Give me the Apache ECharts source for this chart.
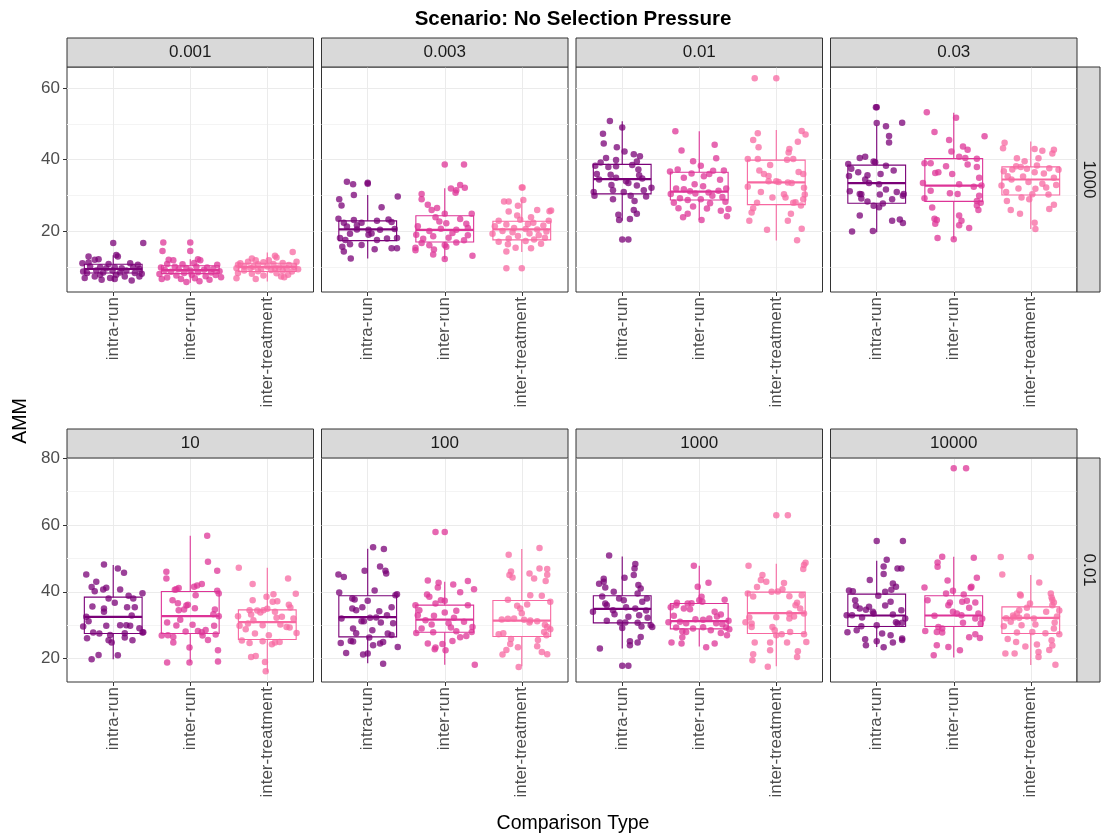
<!DOCTYPE html>
<html>
<head>
<meta charset="utf-8">
<script src="https://cdn.jsdelivr.net/npm/echarts@6/dist/echarts.min.js"></script>
<style>
  html, body { margin: 0; padding: 0; background: #fff; }
  #chart { width: 1102px; height: 836px; }
</style>
</head>
<body>
<div id="chart"></div>
<script>
// comparison types and their colours
const categories = ['intra-run', 'inter-run', 'inter-treatment'];
const colors = ['#7a0177', '#dd3497', '#f768a1'];

const facetLabels = ['0.001', '0.003', '0.01', '0.03', '10', '100', '1000', '10000'];
const rowLabels = ['1000', '0.01'];
const yMajor = [[20, 40, 60], [20, 40, 60, 80]];
const yMinor = [[10, 30, 50], [30, 50, 70]];
const yRange = [[3.2, 65.8], [13.0, 80.05]];

// box stats per facet: [lower whisker, q1, median, q3, upper whisker] for each comparison type
const box0001 = [[6.1, 8.5, 9.6, 10.9, 13.4], [5.8, 8.3, 9.3, 10.5, 12.3], [6.1, 8.9, 10.1, 11.2, 14.2]];
const box0003 = [[12.5, 17.5, 20.6, 23.0, 30.2], [12.3, 17.1, 20.5, 24.4, 32.1], [14.3, 17.7, 20.6, 22.9, 29.0]];
const box001 = [[23.0, 30.5, 34.6, 38.7, 50.7], [23.2, 28.8, 31.1, 36.5, 47.9], [17.5, 27.5, 33.7, 39.9, 48.3]];
const box003 = [[19.8, 27.9, 33.5, 38.5, 49.5], [17.9, 28.4, 32.8, 40.3, 53.1], [20.7, 30.2, 34.5, 38.0, 45.1]];
const box10 = [[19.8, 27.5, 32.5, 38.4, 48.0], [18.8, 27.5, 32.7, 40.1, 56.8], [16.1, 25.7, 30.9, 34.6, 47.2]];
const box100 = [[18.6, 26.5, 32.4, 38.8, 52.9], [18.2, 27.9, 31.7, 36.0, 43.0], [17.7, 26.6, 31.4, 37.4, 52.8]];
const box1000 = [[23.0, 30.7, 34.9, 38.8, 50.6], [23.6, 28.9, 31.2, 36.5, 47.8], [17.7, 27.5, 33.6, 39.9, 48.4]];
const box10000 = [[23.5, 29.6, 32.9, 39.3, 49.3], [20.3, 29.6, 32.9, 38.8, 50.5], [18.1, 27.5, 32.2, 35.5, 45.0]];

// jittered points per facet: [horizontal jitter (category units), AMM]
const pts0001 = [
  [[0,16.8],[0.39,16.8],[-0.32,13.1],[0.04,13.5],[0.06,13.1],[-0.24,12.2],[-0.19,12.3],[-0.4,11.2],[-0.32,11.4],[-0.06,11.0],[0.22,11.2],[0.32,10.8],[-0.3,10.3],[-0.17,10.1],[-0.09,9.8],[0.02,10.1],[0.11,9.8],[0.26,10.1],[0.34,9.6],[-0.39,8.9],[-0.34,8.5],[-0.22,9.2],[-0.13,8.6],[-0.01,9.2],[0.09,8.6],[0.17,9.2],[0.28,8.5],[0.37,8.3],[-0.37,7.1],[-0.24,7.5],[-0.15,6.6],[-0.04,7.1],[0.02,6.8],[0.24,6.4],[0.15,7.5],[0.34,7.5],[-0.17,8.0],[0.04,8.0]],
  [[0,17.0],[-0.35,17.0],[0,14.6],[-0.36,14.6],[-0.28,12.2],[-0.22,12.0],[0.1,12.3],[0.13,12.0],[-0.3,11.0],[-0.1,10.9],[0.05,11.3],[0.35,10.8],[-0.38,10.0],[-0.2,10.2],[-0.05,9.9],[0.08,10.2],[0.22,10.0],[0.3,9.6],[-0.33,9.3],[-0.15,9.5],[0,9.2],[0.18,9.4],[0.38,9.0],[-0.25,8.8],[-0.08,8.5],[0.1,8.7],[0.27,8.6],[-0.4,8.2],[-0.18,7.8],[0.02,8.0],[0.2,7.6],[0.33,7.9],[-0.3,7.2],[-0.12,6.8],[0.06,7.0],[0.25,6.6],[0.4,7.3],[-0.05,6.0],[0.12,6.2],[-0.37,6.8]],
  [[0.33,14.3],[0.1,13.3],[0.12,12.8],[-0.2,12.5],[-0.15,12.0],[0.02,12.0],[-0.35,11.2],[-0.25,11.6],[-0.05,11.5],[0.2,11.3],[0.38,11.6],[-0.38,10.8],[-0.12,10.9],[0.08,11.0],[0.28,10.7],[-0.3,10.3],[-0.18,10.2],[0,10.3],[0.15,10.0],[0.35,10.2],[-0.4,9.8],[-0.22,9.9],[-0.08,9.6],[0.1,9.7],[0.25,9.8],[0.4,9.5],[-0.3,9.2],[-0.12,9.0],[0.05,9.3],[0.2,9.1],[0.32,8.9],[-0.38,8.5],[-0.2,8.3],[0.12,8.4],[0.27,8.0],[-0.05,7.8],[0.18,7.5],[-0.4,7.0],[-0.15,6.8],[0.22,7.3]]
];
const pts0003 = [
  [[-0.27,33.9],[-0.19,33.2],[0,33.6],[0,33.3],[-0.18,30.2],[0.39,29.8],[-0.37,29.0],[-0.34,27.3],[0.18,26.8],[-0.38,23.6],[-0.18,23.2],[0.12,23.0],[0.27,23.4],[-0.31,22.5],[-0.08,22.5],[0.31,22.7],[-0.27,21.4],[-0.14,20.6],[0.01,20.5],[0.16,20.5],[0.35,20.7],[-0.36,18.2],[-0.23,19.4],[0.05,19.5],[0.12,17.7],[0.25,18.1],[0.38,18.2],[-0.29,17.7],[-0.08,16.3],[0.09,15.1],[-0.33,15.8],[-0.31,14.5],[-0.23,16.5],[0.31,15.4],[0.38,15.4],[-0.22,12.5],[0.01,19.1],[-0.14,21.8]],
  [[0,38.7],[0.25,38.7],[0.2,33.0],[0.08,32.0],[0.15,31.5],[0.26,32.2],[-0.3,30.5],[-0.3,29.0],[0.14,30.8],[-0.22,27.5],[-0.17,26.0],[-0.1,26.6],[0,25.0],[0.35,25.0],[0.2,23.5],[-0.12,24.0],[-0.07,22.8],[0.28,22.2],[0.02,22.3],[-0.35,21.5],[0.3,21.0],[-0.05,20.8],[0.15,20.5],[-0.2,20.2],[0.1,19.6],[0.3,19.0],[-0.37,19.1],[-0.28,18.0],[-0.15,18.7],[0.05,18.3],[0.25,17.6],[-0.3,16.8],[-0.2,16.2],[0,16.3],[0.15,17.0],[-0.38,15.5],[-0.14,15.0],[0.02,15.8],[0.36,13.3],[-0.15,13.6],[-0.38,14.8],[0,12.4]],
  [[0,32.3],[0.01,32.3],[-0.23,28.4],[-0.17,28.4],[0.02,28.8],[-0.05,27.2],[0.2,26.0],[0.38,25.9],[0.36,25.7],[-0.17,25.6],[-0.06,24.5],[0.12,24.0],[-0.3,23.0],[0.35,23.0],[0.15,22.5],[-0.02,23.3],[-0.2,22.0],[0.08,22.1],[-0.35,21.5],[0.28,21.7],[-0.1,21.0],[0.05,20.7],[0.2,20.6],[-0.25,20.2],[0.32,20.0],[-0.12,19.8],[0.1,19.5],[-0.38,19.4],[0.22,19.0],[-0.05,18.8],[0.3,18.3],[-0.17,18.1],[0.16,17.8],[-0.3,17.2],[0.05,17.4],[-0.18,16.5],[0.25,16.6],[-0.08,15.5],[0.12,15.4],[-0.2,14.5],[-0.2,9.8],[0,9.8]]
];
const pts001 = [
  [[-0.16,50.8],[0,49.0],[-0.25,47.2],[-0.24,44.5],[-0.07,43.5],[0.03,42.3],[0.23,41.0],[-0.21,40.5],[-0.08,39.9],[0.15,41.5],[-0.28,39.2],[0.19,39.5],[-0.35,38.3],[-0.18,38.0],[-0.08,38.2],[0.13,38.5],[0.21,37.3],[-0.33,36.0],[-0.15,35.8],[-0.08,35.0],[0.05,34.0],[0.22,35.7],[0.26,34.8],[-0.3,34.5],[0.08,33.5],[-0.14,33.0],[0.19,32.8],[0.38,32.2],[-0.37,31.0],[-0.12,31.5],[0.02,31.0],[0.28,31.5],[-0.36,30.0],[0.11,30.0],[0.31,29.8],[-0.12,29.0],[0.16,28.5],[0.15,26.0],[0.19,25.0],[-0.05,24.7],[-0.04,23.2],[0.1,23.5],[0,17.8],[0.08,17.8]],
  [[-0.31,47.9],[0.2,44.2],[-0.23,42.6],[0.22,40.4],[-0.08,39.6],[0.02,38.3],[-0.28,37.3],[0.32,37.0],[0.18,36.9],[0.13,36.0],[-0.38,36.7],[-0.1,36.2],[0.06,35.4],[-0.2,35.0],[0.27,34.4],[-0.06,33.2],[0.05,32.6],[0.35,32.0],[-0.3,32.0],[-0.2,31.8],[-0.12,31.2],[0.12,30.9],[0.25,31.4],[-0.37,30.5],[-0.05,30.6],[0.17,30.0],[0.3,29.6],[-0.25,29.3],[0.02,29.0],[-0.15,28.8],[0.34,28.3],[-0.33,28.0],[0.14,27.9],[-0.08,27.0],[0.1,26.4],[-0.27,26.5],[0.28,25.8],[0.36,24.3],[-0.21,24.0],[0.03,23.2],[0.38,26.3],[-0.15,25.0]],
  [[0,62.7],[-0.28,62.7],[0.33,48.0],[0.38,47.0],[-0.24,47.4],[-0.3,45.5],[0.28,45.0],[-0.23,43.5],[0.17,43.0],[0.16,42.0],[-0.37,40.2],[-0.24,40.2],[0.14,40.0],[0.22,40.2],[-0.08,38.5],[-0.22,37.0],[0.29,36.6],[-0.16,36.0],[-0.1,35.5],[0.35,36.0],[0.0,34.0],[-0.1,34.0],[0.03,33.8],[0.15,33.7],[0.2,33.5],[-0.37,32.5],[0.36,32.2],[-0.2,31.0],[0.1,30.4],[0.37,30.3],[-0.05,29.5],[0.12,29.5],[-0.25,28.0],[0.25,28.2],[0.35,29.0],[0.22,28.0],[-0.3,26.5],[0.32,27.3],[-0.32,25.3],[0.19,25.0],[-0.35,23.0],[0.15,23.0],[-0.12,20.5],[0.33,20.8],[0.27,17.6]]
];
const pts003 = [
  [[0,54.6],[-0.01,54.6],[0,50.2],[0.12,49.3],[0.33,50.3],[0.16,46.6],[0.16,44.8],[-0.22,40.5],[-0.15,40.8],[-0.04,39.5],[-0.02,39.3],[-0.37,38.8],[-0.33,37.5],[0.12,38.3],[0.22,37.0],[-0.24,36.5],[0.05,36.0],[-0.12,35.7],[-0.36,35.5],[-0.15,34.5],[-0.1,33.5],[0.03,33.2],[0.12,31.7],[-0.35,31.2],[0.26,31.0],[-0.22,30.5],[-0.2,30.4],[0.04,30.3],[0.35,30.5],[0.34,30.0],[-0.2,29.2],[0.2,29.0],[-0.12,28.4],[0.08,27.8],[-0.04,27.2],[0.03,26.8],[-0.22,24.5],[0.3,23.4],[0.34,22.4],[-0.32,20.0],[-0.05,20.2],[0.2,23.0]],
  [[-0.35,53.2],[0.03,51.7],[-0.25,47.7],[0.4,46.5],[-0.06,45.5],[0.12,43.7],[0.18,42.8],[-0.03,42.3],[0.07,40.8],[0.15,40.5],[0.3,40.3],[-0.38,39.0],[-0.3,39.0],[0.18,38.7],[-0.1,38.2],[0.3,38.0],[-0.2,36.5],[-0.24,36.3],[-0.02,36.0],[0.33,35.0],[-0.4,33.5],[0.07,33.2],[0.26,32.5],[0.36,32.8],[-0.3,31.4],[-0.05,30.7],[0.05,30.5],[0.33,30.0],[-0.38,29.3],[0.3,28.5],[0.35,28.0],[0.3,27.3],[-0.28,26.7],[0.32,26.0],[0.07,24.5],[-0.25,23.6],[-0.22,23.2],[0.1,23.0],[-0.24,22.2],[0.07,21.8],[0.2,21.0],[-0.21,18.2],[0,17.9]],
  [[-0.34,44.7],[-0.36,43.2],[0.05,43.0],[0.15,42.5],[0.3,42.8],[0.28,41.7],[-0.18,40.4],[0.1,40.4],[-0.08,39.6],[-0.19,38.2],[-0.13,38.0],[0.08,38.4],[-0.05,37.5],[-0.24,37.3],[0.24,37.6],[0.36,37.2],[-0.35,36.8],[0.05,36.5],[0.17,36.2],[-0.3,35.4],[-0.1,35.3],[0.3,35.0],[-0.25,34.5],[-0.03,33.8],[0.15,33.3],[0.33,33.0],[-0.38,32.8],[0.2,32.3],[-0.16,32.0],[0.06,31.9],[-0.32,31.0],[0.02,30.4],[0.23,30.3],[-0.12,29.5],[-0.02,29.0],[0.3,27.5],[-0.31,28.5],[-0.26,26.0],[-0.14,25.0],[0.05,22.5],[0.06,20.7],[0.24,26.3]]
];
const pts10 = [
  [[-0.12,48.2],[0.06,47.0],[-0.35,45.2],[0.14,45.7],[-0.22,43.0],[-0.09,41.2],[-0.28,41.4],[-0.13,40.7],[0.09,40.7],[-0.24,40.2],[0.38,39.6],[0.2,38.8],[0.26,38.0],[-0.06,38.0],[0.02,36.7],[-0.27,35.6],[-0.12,35.0],[0.18,35.4],[0.28,35.4],[-0.12,34.0],[-0.35,32.5],[0.24,32.9],[-0.32,31.2],[-0.39,29.6],[-0.09,29.8],[0.09,30.0],[0.17,30.0],[0.22,29.8],[0.34,29.1],[-0.26,27.8],[-0.18,27.5],[-0.04,27.1],[0.15,27.6],[0.39,27.9],[-0.34,26.1],[0.15,26.3],[0.25,25.5],[-0.06,25.5],[-0.02,24.8],[-0.19,21.1],[0.06,21.0],[-0.28,19.8],[0.38,27.8]],
  [[0.22,56.8],[0.23,49.0],[0.35,46.3],[-0.31,46.0],[-0.31,44.0],[0.15,42.3],[0.09,41.9],[0.05,41.5],[-0.15,41.1],[-0.18,40.8],[-0.2,40.6],[0.35,40.3],[0.37,39.5],[0.07,39.0],[-0.23,37.5],[-0.16,36.6],[-0.05,35.9],[-0.03,36.1],[0.06,35.1],[-0.08,34.7],[0.32,34.7],[-0.15,34.5],[0.37,32.7],[0.3,33.3],[-0.13,31.6],[-0.3,30.8],[-0.18,29.9],[0.03,30.1],[0.31,29.8],[-0.06,28.1],[0.1,28.3],[0.15,27.9],[0.2,28.6],[0.16,26.9],[-0.29,27.0],[-0.22,26.5],[0.33,27.2],[-0.37,26.9],[0.23,25.6],[-0.22,24.8],[-0.01,23.3],[0.36,22.5],[-0.3,18.8],[-0.01,18.8],[0.36,19.1]],
  [[-0.37,47.2],[0.27,44.0],[0.37,39.4],[-0.19,42.3],[0.08,39.3],[-0.01,38.5],[0.13,37.2],[0.07,37.0],[-0.19,37.5],[0.28,36.1],[0.3,35.3],[-0.23,34.5],[-0.05,34.5],[-0.13,34.4],[-0.21,33.2],[0.0,34.9],[0.1,34.0],[-0.09,33.8],[0.19,32.5],[-0.38,32.7],[-0.18,31.5],[0.12,32.2],[0.34,32.0],[-0.25,30.5],[0.17,30.2],[-0.06,30.0],[0.25,29.5],[-0.36,29.8],[0.29,29.3],[-0.28,28.8],[-0.16,27.5],[0.02,27.0],[0.38,27.7],[-0.33,25.4],[-0.23,24.7],[-0.06,25.2],[0.06,24.3],[0.1,24.8],[0.16,25.0],[-0.21,20.5],[-0.15,20.8],[-0.03,19.0],[-0.02,16.2]]
];
const pts100 = [
  [[0.07,53.3],[0.21,52.8],[-0.38,45.2],[-0.31,44.4],[0.16,47.6],[0.23,46.3],[0.24,45.5],[-0.04,46.3],[0.09,40.4],[-0.37,39.8],[0.38,39.3],[0.36,39.0],[-0.2,38.0],[-0.17,37.7],[0.0,37.3],[-0.07,35.4],[0.31,35.4],[-0.2,35.0],[-0.15,34.5],[0.15,34.2],[0.25,33.0],[-0.34,32.0],[0.03,32.2],[0.11,32.3],[-0.05,31.2],[-0.08,31.2],[0.17,30.8],[0.33,30.6],[-0.19,29.0],[0.06,28.5],[-0.15,27.6],[0.26,27.5],[0.31,27.1],[0.02,26.3],[-0.22,25.3],[-0.19,25.1],[0.16,24.5],[0.07,24.0],[-0.35,24.7],[0.2,25.0],[-0.28,21.7],[0.0,21.5],[-0.06,21.2],[0.39,23.5],[0.2,18.5]],
  [[0,57.9],[-0.12,57.9],[-0.22,43.4],[0.3,43.2],[0.11,42.2],[-0.08,42.7],[-0.09,41.3],[0.38,40.8],[0.2,39.9],[-0.23,39.2],[-0.2,38.5],[-0.05,37.5],[0.0,37.3],[-0.12,36.5],[0.3,36.0],[-0.38,36.0],[-0.33,34.5],[0.15,34.3],[0.0,33.8],[-0.35,33.0],[-0.14,32.8],[0.12,32.2],[-0.25,31.5],[0.25,31.0],[0.05,30.6],[-0.17,30.2],[0.36,29.5],[-0.3,29.0],[0.08,29.3],[0.35,28.0],[-0.37,27.7],[0.15,28.2],[-0.15,27.9],[0.28,26.8],[0.2,26.4],[0.1,25.3],[-0.22,24.5],[-0.03,24.4],[-0.12,23.3],[0.01,22.5],[0.39,18.2],[-0.13,22.8]],
  [[0.23,53.1],[-0.17,51.1],[0.23,47.0],[0.33,46.8],[-0.14,46.1],[-0.16,45.0],[0.1,45.5],[0.16,44.0],[0.31,43.2],[0.33,45.1],[-0.12,44.3],[0.11,39.0],[0.26,38.8],[0.37,37.0],[-0.18,37.6],[-0.06,35.8],[0.07,36.2],[-0.02,35.0],[0.0,33.6],[-0.26,31.7],[-0.18,31.9],[-0.1,32.0],[0.03,31.6],[0.11,31.4],[0.1,30.8],[0.2,31.2],[0.3,30.1],[0.33,29.5],[0.37,28.8],[0.29,28.0],[-0.3,27.3],[-0.24,27.6],[0.32,27.0],[-0.14,25.9],[0.21,25.6],[-0.15,24.4],[-0.05,23.4],[0.2,23.7],[-0.2,22.6],[0.26,22.0],[-0.25,21.2],[0.33,21.3],[-0.04,17.5]]
];
const pts1000 = [
  [[-0.17,50.9],[0.17,48.3],[0.16,47.0],[0.15,45.0],[0.03,44.2],[-0.24,43.9],[-0.24,43.0],[-0.3,42.4],[0.21,42.0],[0.24,41.0],[-0.22,41.3],[-0.11,40.0],[0.2,39.5],[-0.26,38.6],[0.32,38.0],[-0.04,38.0],[0.02,37.5],[0.26,37.0],[-0.22,36.5],[-0.2,36.0],[0.05,35.4],[0.17,35.0],[-0.12,34.5],[0.31,34.4],[-0.38,34.0],[0.22,33.0],[-0.1,33.3],[0.08,32.5],[0.33,32.2],[-0.2,31.3],[0.04,30.8],[0.2,30.7],[0.37,30.0],[-0.03,30.8],[0.39,29.5],[0.25,29.6],[0.0,29.2],[0.24,26.5],[0.1,25.2],[0.2,24.8],[0.1,24.0],[-0.29,23.0],[0,17.9],[0.08,17.9]],
  [[-0.07,47.8],[0.12,42.7],[-0.02,41.5],[0.03,38.5],[0.0,37.5],[-0.29,36.7],[-0.15,36.5],[-0.1,36.6],[0.04,37.0],[0.33,37.6],[-0.3,36.0],[-0.2,35.0],[-0.37,35.4],[-0.12,34.8],[0.2,34.0],[0.28,33.2],[0.23,32.6],[0.13,32.0],[-0.33,32.8],[-0.05,31.8],[0.05,31.6],[0.38,31.3],[-0.25,31.0],[-0.4,30.9],[-0.17,30.6],[0.22,30.6],[0.3,30.3],[0.05,29.4],[-0.3,29.3],[-0.08,29.0],[0.35,29.3],[0.39,28.8],[-0.22,28.2],[-0.17,28.0],[0.15,28.5],[0.28,27.7],[0.36,27.0],[-0.22,26.4],[0.2,24.5],[-0.36,24.8],[-0.23,24.5],[0.09,23.4]],
  [[0,62.9],[0.15,62.9],[0.38,48.7],[0.36,48.0],[-0.36,47.8],[0.35,46.8],[-0.18,45.0],[-0.2,43.5],[-0.13,43.0],[0.1,42.6],[-0.25,41.4],[0.08,40.8],[-0.06,40.0],[0.02,40.1],[-0.37,39.5],[0.17,38.7],[0.33,39.0],[-0.3,38.6],[0.27,36.7],[0.25,36.0],[0.31,35.0],[0.36,33.5],[0.17,33.5],[0.0,32.4],[-0.35,32.3],[0.23,32.6],[0.17,32.0],[-0.4,30.9],[-0.32,30.5],[-0.32,29.5],[-0.05,29.5],[0.18,28.0],[0.07,27.3],[-0.02,28.5],[0.36,27.3],[0.0,27.0],[-0.28,24.8],[-0.08,24.8],[0.14,24.8],[0.39,25.0],[-0.08,22.5],[0.28,22.2],[-0.3,21.3],[0.27,20.5],[-0.31,19.5],[-0.11,17.6]]
];
const pts10000 = [
  [[0,55.2],[0.34,55.2],[0.13,49.6],[0.09,47.6],[0.27,47.0],[0.32,47.0],[0.09,45.3],[-0.09,43.5],[0.21,42.5],[-0.36,40.4],[-0.31,40.2],[0.11,40.0],[0.25,41.5],[0.19,40.6],[0.02,38.8],[-0.28,37.5],[0.18,37.0],[-0.27,35.8],[-0.1,35.5],[0.11,35.9],[-0.22,35.0],[-0.14,34.6],[0.32,34.5],[-0.05,34.0],[-0.04,33.5],[0.21,33.2],[-0.39,33.0],[-0.32,33.0],[-0.19,32.3],[0.37,32.0],[0.25,30.9],[0.33,30.7],[0.27,30.5],[0.0,30.0],[-0.2,29.7],[-0.26,28.5],[-0.38,27.9],[0.07,27.5],[0.18,27.0],[0.33,26.0],[0.33,25.6],[-0.15,25.8],[0.0,25.2],[0.21,24.8],[-0.14,24.0],[0.09,23.4]],
  [[0,77.0],[0.16,77.0],[-0.15,50.5],[-0.21,48.8],[-0.21,47.5],[0.26,50.2],[0.3,44.2],[-0.08,43.4],[-0.38,41.3],[0.23,41.5],[0.22,41.2],[-0.01,40.3],[-0.1,39.5],[0.13,39.2],[-0.34,37.5],[0.11,37.0],[0.17,37.3],[0.28,36.8],[-0.05,36.8],[-0.07,36.0],[0.2,35.2],[-0.01,34.0],[0.04,33.5],[0.32,33.5],[0.1,33.0],[0.28,32.0],[-0.25,32.8],[0.37,31.9],[0.35,30.5],[0.12,30.7],[-0.2,29.5],[-0.15,29.0],[-0.37,28.3],[-0.22,28.0],[-0.15,27.8],[0.28,27.3],[0.34,26.2],[0.2,26.4],[-0.22,24.0],[-0.07,23.5],[0.08,22.5],[-0.26,21.0]],
  [[-0.39,50.4],[0,50.4],[-0.37,45.2],[0.11,42.8],[0.26,39.5],[-0.14,39.2],[-0.13,38.9],[0.27,38.3],[0.28,37.6],[0.3,36.8],[0.28,36.0],[-0.01,36.5],[-0.05,35.2],[-0.15,34.5],[0.37,34.4],[0.2,34.0],[-0.18,33.5],[-0.23,32.9],[-0.22,32.3],[-0.15,32.2],[-0.32,32.1],[-0.05,32.6],[0.34,32.6],[0.04,32.0],[0.31,30.8],[-0.26,31.0],[0.06,30.2],[-0.12,30.0],[-0.35,29.7],[0.3,29.0],[0.02,28.0],[-0.18,27.8],[0.19,27.6],[0.37,27.3],[-0.3,25.9],[0.27,25.5],[-0.19,25.0],[0.08,24.2],[-0.07,23.6],[0.24,22.6],[0.28,23.9],[-0.33,21.5],[-0.21,21.5],[0.1,22.0],[0.32,18.2],[0.1,20.5]]
];

const facetBoxes = [box0001, box0003, box001, box003, box10, box100, box1000, box10000];
const facetPoints = [pts0001, pts0003, pts001, pts003, pts10, pts100, pts1000, pts10000];

// layout (px)
const colLeft = [67, 321.5, 576, 830.5];
const panelW = 246.5;
const rowTop = [67, 458];
const panelH = [225, 224];
const stripH = 29;
const FONT = '"Liberation Sans", Arial, sans-serif';
const TICK_SIZE = 17;

const chart = echarts.init(document.getElementById('chart'));

function renderBox(params, api) {
  const x = api.value(0);
  const c = colors[api.value(6)];
  const lo = api.coord([x, api.value(1)]);
  const q1 = api.coord([x, api.value(2)]);
  const md = api.coord([x, api.value(3)]);
  const q3 = api.coord([x, api.value(4)]);
  const hi = api.coord([x, api.value(5)]);
  const xl = api.coord([x - 0.375, 0])[0];
  const xr = api.coord([x + 0.375, 0])[0];
  return {
    type: 'group',
    children: [
      { type: 'line', shape: { x1: lo[0], y1: lo[1], x2: q1[0], y2: q1[1] }, style: { stroke: c, lineWidth: 1.1 } },
      { type: 'line', shape: { x1: q3[0], y1: q3[1], x2: hi[0], y2: hi[1] }, style: { stroke: c, lineWidth: 1.1 } },
      { type: 'rect', shape: { x: xl, y: q3[1], width: xr - xl, height: q1[1] - q3[1] }, style: { fill: 'none', stroke: c, lineWidth: 1.1 } },
      { type: 'line', shape: { x1: xl, y1: md[1], x2: xr, y2: md[1] }, style: { stroke: c, lineWidth: 2.2 } }
    ]
  };
}

const grids = [], xAxes = [], yAxes = [], series = [], graphics = [];

for (let i = 0; i < 8; i++) {
  const row = Math.floor(i / 4), col = i % 4;
  grids.push({
    left: colLeft[col], top: rowTop[row], width: panelW, height: panelH[row],
    show: true, backgroundColor: '#fff', borderColor: '#333', borderWidth: 1
  });
  xAxes.push({
    type: 'value', gridIndex: i, min: 0.4, max: 3.6,
    axisLine: { show: false },
    axisTick: { show: true, customValues: [1, 2, 3], length: 4, lineStyle: { color: '#333', width: 1 } },
    axisLabel: {
      customValues: [1, 2, 3], rotate: 90, margin: 5,
      formatter: v => categories[Math.round(v) - 1],
      fontFamily: FONT, fontSize: TICK_SIZE, color: '#4d4d4d'
    },
    splitLine: { show: true, lineStyle: { color: '#ebebeb', width: 1 } }
  });
  // major y axis with labels on the left column only
  yAxes.push({
    type: 'value', gridIndex: i, min: yRange[row][0], max: yRange[row][1],
    axisLine: { show: false },
    axisTick: { show: col === 0, customValues: yMajor[row], length: 4, lineStyle: { color: '#333', width: 1 } },
    axisLabel: {
      show: col === 0, customValues: yMajor[row], margin: 7,
      fontFamily: FONT, fontSize: TICK_SIZE, color: '#4d4d4d'
    },
    splitLine: { show: true, lineStyle: { color: '#ebebeb', width: 1 } }
  });
  // minor grid lines
  yAxes.push({
    type: 'value', gridIndex: i, min: yRange[row][0], max: yRange[row][1],
    axisLine: { show: false },
    axisTick: { show: false, customValues: yMinor[row] },
    axisLabel: { show: false, customValues: yMinor[row] },
    splitLine: { show: true, lineStyle: { color: '#f4f4f4', width: 1 } }
  });

  const boxes = facetBoxes[i];
  series.push({
    type: 'custom', xAxisIndex: i, yAxisIndex: 2 * i, z: 2,
    renderItem: renderBox,
    encode: { x: 0, y: [1, 2, 3, 4, 5] },
    data: boxes.map((b, k) => [k + 1, b[0], b[1], b[2], b[3], b[4], k]),
    silent: true
  });
  facetPoints[i].forEach((pts, k) => {
    series.push({
      type: 'scatter', xAxisIndex: i, yAxisIndex: 2 * i, z: 3,
      symbolSize: 6.5,
      itemStyle: { color: colors[k], opacity: 0.75 },
      data: pts.map(p => [k + 1 + p[0], p[1]]),
      silent: true
    });
  });

  // facet strip
  graphics.push({
    type: 'rect', z: 10,
    shape: { x: colLeft[col], y: rowTop[row] - stripH, width: panelW, height: stripH },
    style: { fill: '#d9d9d9', stroke: '#333', lineWidth: 1 }
  });
  graphics.push({
    type: 'text', z: 11,
    x: colLeft[col] + panelW / 2, y: rowTop[row] - stripH / 2,
    style: {
      text: facetLabels[i], font: TICK_SIZE + 'px ' + FONT, fill: '#1a1a1a',
      align: 'center', verticalAlign: 'middle', textAlign: 'center', textVerticalAlign: 'middle'
    }
  });
}

// row strips on the right
for (let r = 0; r < 2; r++) {
  graphics.push({
    type: 'rect', z: 10,
    shape: { x: 1077, y: rowTop[r], width: 23, height: panelH[r] },
    style: { fill: '#d9d9d9', stroke: '#333', lineWidth: 1 }
  });
  graphics.push({
    type: 'text', z: 11,
    x: 1088.5, y: rowTop[r] + panelH[r] / 2, rotation: -Math.PI / 2,
    style: {
      text: rowLabels[r], font: TICK_SIZE + 'px ' + FONT, fill: '#1a1a1a',
      align: 'center', verticalAlign: 'middle', textAlign: 'center', textVerticalAlign: 'middle'
    }
  });
}

// title and axis titles
graphics.push({
  type: 'text', x: 573, y: 19,
  style: {
    text: 'Scenario: No Selection Pressure', font: 'bold 20.5px ' + FONT, fill: '#000',
    align: 'center', verticalAlign: 'middle', textAlign: 'center', textVerticalAlign: 'middle'
  }
});
graphics.push({
  type: 'text', x: 21, y: 421, rotation: Math.PI / 2,
  style: {
    text: 'AMM', font: '19.5px ' + FONT, fill: '#000',
    align: 'center', verticalAlign: 'middle', textAlign: 'center', textVerticalAlign: 'middle'
  }
});
graphics.push({
  type: 'text', x: 573, y: 824,
  style: {
    text: 'Comparison Type', font: '19.5px ' + FONT, fill: '#000',
    align: 'center', verticalAlign: 'middle', textAlign: 'center', textVerticalAlign: 'middle'
  }
});

chart.setOption({
  animation: false,
  backgroundColor: '#fff',
  grid: grids,
  xAxis: xAxes,
  yAxis: yAxes,
  series: series,
  graphic: { elements: graphics }
});
</script>
</body>
</html>
